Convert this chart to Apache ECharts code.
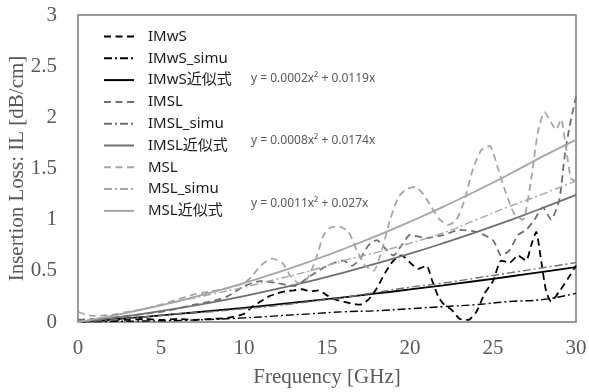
<!DOCTYPE html>
<html>
<head>
<meta charset="utf-8">
<script src="https://cdn.jsdelivr.net/npm/echarts@6/dist/echarts.min.js"></script>
<style>html,body{margin:0;padding:0;background:#fff}#c{width:589px;height:392px}</style>
</head>
<body>
<div id="c"></div>
<script>
// ---- data ----
const imwsX = [0,1,2,3,4,5,6,7,8,9,10,10.5,11,11.5,12,12.5,13,13.5,14,14.5,15,15.5,16,16.5,17,17.5,18,18.5,19,19.5,20,20.5,21,21.3,21.7,22,22.5,23,23.5,24,24.5,25,25.5,26,26.5,27,27.3,27.6,27.9,28.2,28.5,29,29.5,30];
const imwsY = [0,0.01,0.02,0.02,0.03,0.02,0.03,0.02,0.03,0.04,0.08,0.15,0.2,0.25,0.28,0.3,0.31,0.32,0.3,0.31,0.26,0.22,0.2,0.18,0.17,0.22,0.33,0.48,0.6,0.65,0.58,0.52,0.55,0.42,0.25,0.18,0.12,0.03,0.02,0.1,0.28,0.4,0.6,0.58,0.65,0.6,0.75,0.88,0.6,0.3,0.2,0.3,0.42,0.55];

const simuX = [0,2,4,6,8,10,12,14,16,18,20,22,24,26,28,30];
const imwsSimuY = [0,0.005,0.01,0.015,0.025,0.04,0.06,0.08,0.1,0.11,0.13,0.15,0.17,0.2,0.22,0.28];
const imslSimuY = [0,0.02,0.05,0.08,0.1,0.13,0.16,0.2,0.24,0.29,0.34,0.38,0.43,0.48,0.53,0.58];
const mslSimuY  = [0,0.06,0.13,0.2,0.27,0.34,0.42,0.5,0.6,0.68,0.77,0.87,1.0,1.13,1.25,1.38];

const imslX = [0,1,2,3,4,5,6,7,8,9,10,11,12,13,14,15,16,16.5,17,17.5,18,18.5,19,19.5,20,21,22,23,24,25,25.5,26,26.5,27,27.5,28,28.5,29,29.3,29.6,30];
const imslY = [0.02,0.03,0.04,0.06,0.08,0.1,0.13,0.17,0.2,0.25,0.35,0.4,0.38,0.35,0.45,0.55,0.6,0.55,0.62,0.75,0.8,0.72,0.65,0.75,0.85,0.82,0.85,0.9,0.88,0.8,0.65,0.7,0.85,0.9,1.0,1.12,1.0,1.2,1.6,1.9,2.2];

const mslX = [0,0.5,1,2,3,4,5,6,7,8,9,10,10.5,11,11.7,12.3,12.8,13.3,13.8,14.3,14.8,15.3,15.8,16.3,16.8,17.3,17.8,18.3,18.8,19.3,19.8,20.3,20.8,21.3,21.8,22.3,22.8,23.3,23.8,24.3,24.8,25.3,25.8,26.3,26.8,27.3,27.7,28.1,28.5,28.8,29.1,29.4,29.7,30];
const mslY = [0.1,0.07,0.06,0.07,0.1,0.13,0.17,0.22,0.27,0.3,0.33,0.38,0.45,0.55,0.62,0.58,0.45,0.38,0.42,0.6,0.85,0.93,0.93,0.88,0.7,0.55,0.5,0.7,1.0,1.22,1.3,1.32,1.25,1.12,1.0,0.95,1.0,1.2,1.5,1.68,1.72,1.5,1.25,1.05,1.0,1.4,1.85,2.05,1.95,1.88,1.98,1.7,1.4,1.38];

const fitX = [0,2,4,6,8,10,12,14,16,18,20,22,24,26,28,30];
const imwsFitY = [0,0.0246,0.0508,0.0786,0.108,0.139,0.1716,0.2058,0.2416,0.279,0.318,0.3586,0.4008,0.4446,0.49,0.537];
const imslFitY = [0,0.038,0.0824,0.1332,0.1904,0.254,0.324,0.4004,0.4832,0.5724,0.668,0.77,0.8784,0.9932,1.1144,1.242];
const mslFitY  = [0,0.0584,0.1256,0.2016,0.2864,0.38,0.4824,0.5936,0.7136,0.8424,0.98,1.1264,1.2816,1.4456,1.6184,1.78];

const seriesNames = ['IMwS','IMwS_simu','IMwS近似式','IMSL','IMSL_simu','IMSL近似式','MSL','MSL_simu','MSL近似式'];
const equations = ['y = 0.0002x² + 0.0119x','y = 0.0008x² + 0.0174x','y = 0.0011x² + 0.027x'];
const xTicks = {min:0, max:30, step:5};
const yTicks = {min:0, max:3, step:0.5};
const xTitle = 'Frequency [GHz]';
const yTitle = 'Insertion Loss: IL [dB/cm]';

// ---- build ----
const pair = (xs, ys) => xs.map((x,i)=>[x, ys[i]]);
const BLACK='#000000', DARK='#707070', LIGHT='#a6a6a6';
const DASH=[7,4.5], DASHDOT=[8,3,2,3];
function mk(name, xs, ys, color, type, width, smooth){
  return {name, type:'line', data:pair(xs,ys), showSymbol:false, symbol:'none', smooth:smooth,
    lineStyle:{color, type, width}, itemStyle:{color}, z: 2};
}
const series = [
  mk(seriesNames[0], imwsX, imwsY, BLACK, DASH, 1.8, 0.2),
  mk(seriesNames[1], simuX, imwsSimuY, BLACK, DASHDOT, 1.4, true),
  mk(seriesNames[2], fitX, imwsFitY, BLACK, 'solid', 1.8, true),
  mk(seriesNames[3], imslX, imslY, DARK, DASH, 1.8, 0.2),
  mk(seriesNames[4], simuX, imslSimuY, DARK, DASHDOT, 1.4, true),
  mk(seriesNames[5], fitX, imslFitY, DARK, 'solid', 1.8, true),
  mk(seriesNames[6], mslX, mslY, LIGHT, DASH, 1.8, 0.2),
  mk(seriesNames[7], simuX, mslSimuY, LIGHT, DASHDOT, 1.4, true),
  mk(seriesNames[8], fitX, mslFitY, LIGHT, 'solid', 1.8, true)
];

const serif = '"Liberation Serif", "Times New Roman", serif';
const sans = '"Noto Sans", "Noto Sans CJK JP", sans-serif';
const option = {
  animation:false,
  backgroundColor:'#ffffff',
  grid:{left:78, top:15, right:13, bottom:70, show:true, borderColor:'#7a7a7a', borderWidth:1.5,
    backgroundColor:'transparent', containLabel:false, outerBoundsMode:'none'},
  xAxis:{type:'value', min:xTicks.min, max:xTicks.max, interval:xTicks.step,
    name:xTitle, nameLocation:'middle', nameGap:45, nameMoveOverlap:false,
    nameTextStyle:{fontFamily:serif, fontSize:21, color:'#595959'},
    axisLine:{show:false}, axisTick:{show:false}, splitLine:{show:false},
    axisLabel:{fontFamily:serif, fontSize:21, color:'#595959', margin:16}},
  yAxis:{type:'value', min:yTicks.min, max:yTicks.max, interval:yTicks.step,
    name:yTitle, nameLocation:'middle', nameGap:50, nameMoveOverlap:false,
    nameTextStyle:{fontFamily:serif, fontSize:21, color:'#595959'},
    axisLine:{show:false}, axisTick:{show:false}, splitLine:{show:false},
    axisLabel:{fontFamily:serif, fontSize:21, color:'#595959', margin:21}},
  legend:{orient:'vertical', left:98, top:24, itemWidth:30, itemHeight:14, itemGap:6.8,
    data:seriesNames, selectedMode:false, itemStyle:{opacity:0},
    textStyle:{fontFamily:sans, fontSize:15, color:'#1a1a1a', lineHeight:14, padding:[0,0,0,9]}},
  graphic:[
    {type:'text', left:251, top:73, style:{text:equations[0], font:'12px "Noto Sans", sans-serif', fill:'#595959'}},
    {type:'text', left:251, top:135, style:{text:equations[1], font:'12px "Noto Sans", sans-serif', fill:'#595959'}},
    {type:'text', left:251, top:198, style:{text:equations[2], font:'12px "Noto Sans", sans-serif', fill:'#595959'}}
  ],
  series
};
const chart = echarts.init(document.getElementById('c'), null, {renderer:'canvas'});
chart.setOption(option);
</script>
</body>
</html>
